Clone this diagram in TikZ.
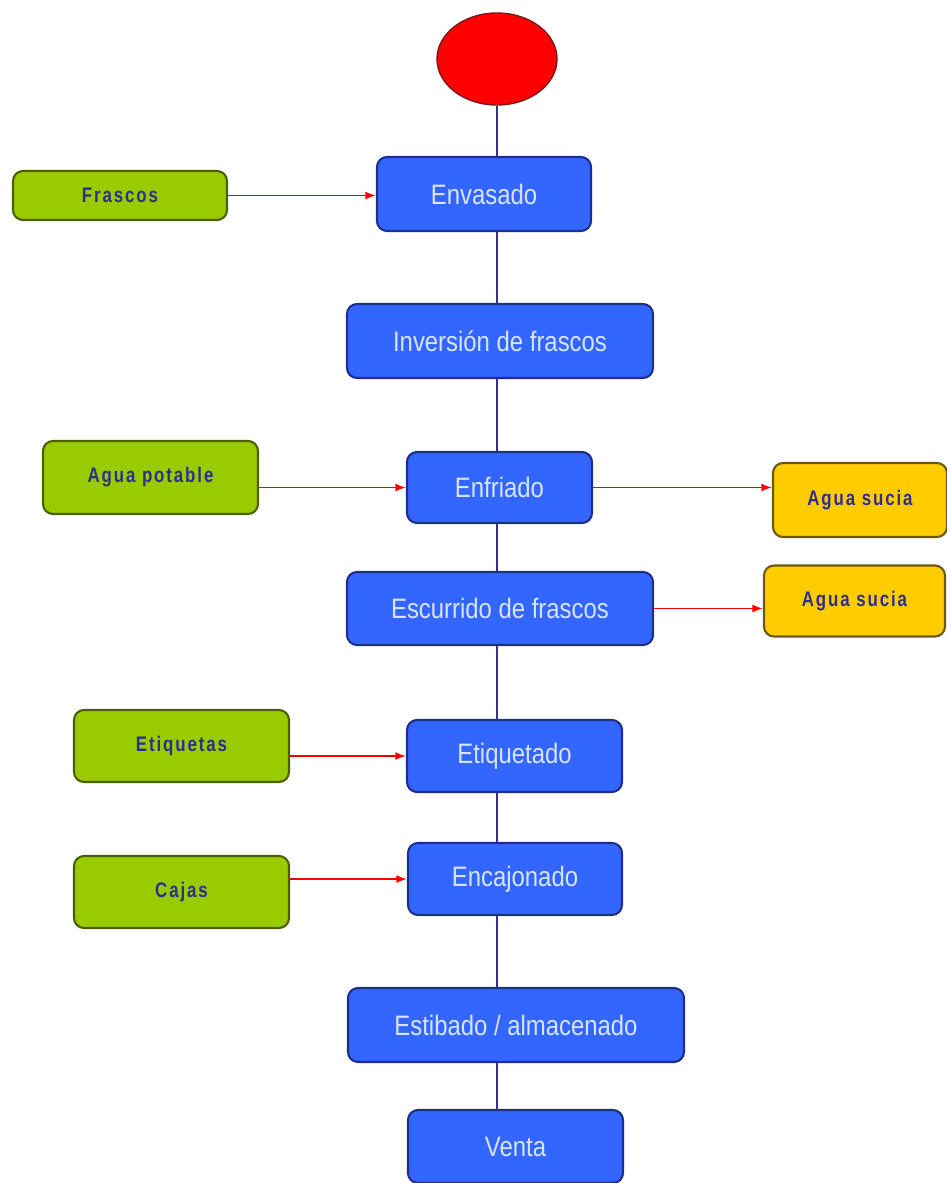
\documentclass[tikz,border=0pt]{standalone}
\usepackage{fontspec}
\usetikzlibrary{shapes.geometric,arrows.meta}
\setmainfont[FakeStretch=0.85]{Liberation Sans}
\newfontfamily\lblfont[FakeStretch=0.8,LetterSpace=9]{Liberation Sans}
\definecolor{procblue}{HTML}{3366FF}
\definecolor{procedge}{HTML}{1F2E8A}
\definecolor{proctext}{HTML}{D6E4FF}
\definecolor{ingreen}{HTML}{99CC00}
\definecolor{inedge}{HTML}{4D5E00}
\definecolor{outyellow}{HTML}{FFCC00}
\definecolor{outedge}{HTML}{6B5A10}
\definecolor{lbltext}{HTML}{2E2E8F}
\definecolor{spine}{HTML}{33338F}
\definecolor{startedge}{HTML}{7A1A1A}
\begin{document}
\begin{tikzpicture}[
  proc/.style={draw=procedge, line width=1.2pt, fill=procblue, rounded corners=0.2cm,
    text=proctext, font=\fontsize{16}{18}\selectfont, inner sep=0pt},
  inbox/.style={draw=inedge, line width=1.2pt, fill=ingreen, rounded corners=0.2cm,
    text=lbltext, font=\lblfont\bfseries\fontsize{12}{14}\selectfont, inner sep=0pt},
  outbox/.style={draw=outedge, line width=1.2pt, fill=outyellow, rounded corners=0.2cm,
    text=lbltext, font=\lblfont\bfseries\fontsize{12}{14}\selectfont, inner sep=0pt},
  flow/.style={draw=red, line width=0.9pt, -{Latex[length=6pt,width=4.5pt]}},
  link/.style={draw=spine, line width=0.8pt}
]
\useasboundingbox (0,0) rectangle (18.94,-23.66);
\node[draw=startedge, fill=red, ellipse, minimum width=2.4cm, minimum height=1.84cm, line width=0.8pt] (start) at (9.94,-1.18) {};
\node[proc, minimum width=4.28cm, minimum height=1.48cm] (env) at (9.68,-3.88) {Envasado};
\node[proc, minimum width=6.12cm, minimum height=1.48cm] (inv) at (10.00,-6.82) {Inversión de frascos};
\node[proc, minimum width=3.70cm, minimum height=1.42cm] (enf) at (9.99,-9.75) {Enfriado};
\node[proc, minimum width=6.12cm, minimum height=1.46cm] (esc) at (10.00,-12.17) {Escurrido de frascos};
\node[proc, minimum width=4.30cm, minimum height=1.44cm] (etq) at (10.29,-15.12) {Etiquetado};
\node[proc, minimum width=4.28cm, minimum height=1.44cm] (enc) at (10.30,-17.58) {Encajonado};
\node[proc, minimum width=6.72cm, minimum height=1.48cm] (est) at (10.32,-20.50) {Estibado / almacenado};
\node[proc, minimum width=4.30cm, minimum height=1.46cm] (ven) at (10.31,-22.93) {Venta};
\node[inbox, minimum width=4.28cm, minimum height=0.98cm] (fra) at (2.40,-3.91) {Frascos};
\node[inbox, minimum width=4.30cm, minimum height=1.46cm] (agp) at (3.01,-9.55) {Agua potable};
\node[inbox, minimum width=4.30cm, minimum height=1.44cm] (eti) at (3.63,-14.92) {Etiquetas};
\node[inbox, minimum width=4.30cm, minimum height=1.44cm] (caj) at (3.63,-17.84) {Cajas};
\node[outbox, minimum width=3.48cm, minimum height=1.48cm] (as1) at (17.20,-10.00) {Agua sucia};
\node[outbox, minimum width=3.62cm, minimum height=1.42cm] (as2) at (17.09,-12.02) {Agua sucia};
\path[link] (start.south) -- (start.south |- env.north);
\path[link] (env.south -| start) -- (inv.north -| start);
\path[link] (inv.south -| start) -- (enf.north -| start);
\path[link] (enf.south -| start) -- (esc.north -| start);
\path[link] (esc.south -| start) -- (etq.north -| start);
\path[link] (etq.south -| start) -- (enc.north -| start);
\path[link] (enc.south -| start) -- (est.north -| start);
\path[link] (est.south -| start) -- (ven.north -| start);
\path[flow] (fra.east) -- (fra.east -| env.west);
\path[flow] (agp.east |- enf.west) -- (enf.west);
\path[flow] (enf.east) -- (enf.east -| as1.west);
\path[flow] (esc.east) -- (esc.east -| as2.west);
\path[flow] (eti.east |- etq.west) -- (etq.west);
\path[flow] (caj.east |- enc.west) -- (enc.west);
\end{tikzpicture}
\end{document}
